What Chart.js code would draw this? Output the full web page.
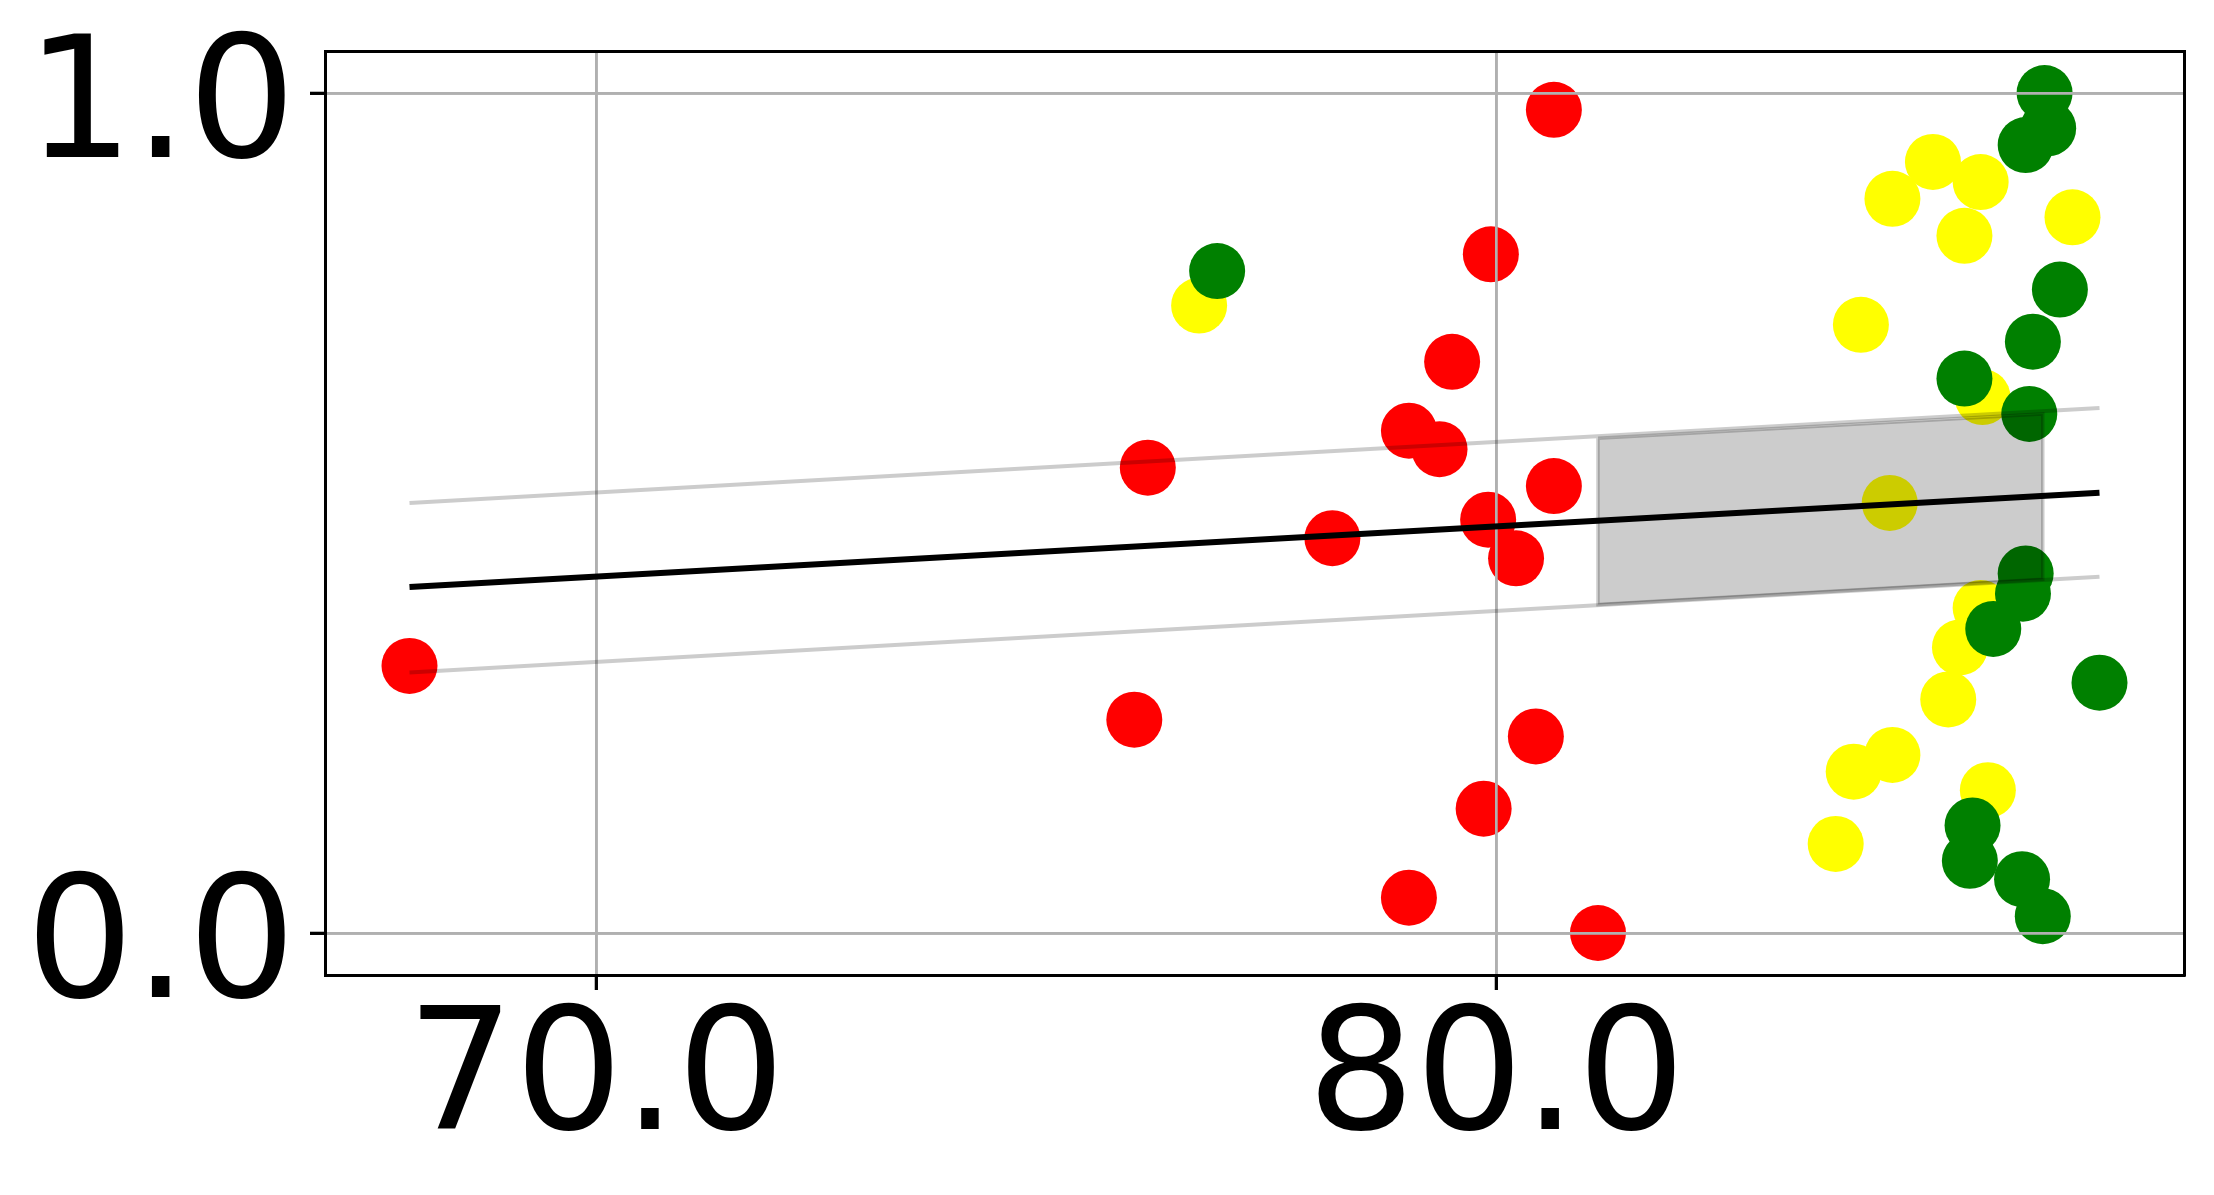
<!DOCTYPE html>
<html>
<head>
<meta charset="utf-8">
<script src="https://cdn.jsdelivr.net/npm/chart.js@4.4.1/dist/chart.umd.min.js"></script>
<style>
html, body { margin: 0; padding: 0; background: #ffffff; }
#wrap { width: 2214px; height: 1195px; }
</style>
</head>
<body>
<div id="wrap"><canvas id="c" width="2214" height="1195"></canvas></div>
<script>
// ---- data ----
const redX = [67.93, 76.13, 75.98, 78.18, 79.03, 79.37, 79.51, 79.94, 80.64, 79.91, 80.22, 80.64, 80.44, 79.86, 79.03, 81.13];
const redY = [0.318, 0.554, 0.254, 0.470, 0.598, 0.576, 0.680, 0.808, 0.980, 0.492, 0.446, 0.532, 0.234, 0.148, 0.042, 0.000];

const yellowX = [76.70, 84.40, 84.85, 85.38, 85.20, 86.40, 84.05, 85.40, 84.37, 85.38, 85.15, 85.02, 83.97, 84.40, 83.77, 85.46];
const yellowY = [0.747, 0.874, 0.918, 0.894, 0.830, 0.852, 0.724, 0.638, 0.512, 0.387, 0.340, 0.278, 0.192, 0.212, 0.106, 0.170];

const greenX = [76.90, 86.09, 86.13, 85.88, 86.26, 85.96, 85.20, 85.92, 85.88, 85.85, 85.52, 86.70, 85.29, 85.26, 85.84, 86.07];
const greenY = [0.788, 1.000, 0.958, 0.938, 0.766, 0.704, 0.660, 0.618, 0.428, 0.404, 0.362, 0.298, 0.128, 0.086, 0.064, 0.020];

const fitX = [67.93, 86.70];
const fitY = [0.412, 0.524];
const upperY = [0.512, 0.625];
const lowerY = [0.310, 0.424];

const zoneX = [81.13, 86.07, 86.07, 81.13, 81.13];
const zoneY = [0.589, 0.618, 0.421, 0.391, 0.589];

const xTicks = [70, 80];
const yTicks = [0, 1];

// ---- helpers ----
const pts = (xs, ys) => xs.map((x, i) => ({ x: x, y: ys[i] }));
const allX = redX.concat(yellowX, greenX);
const allY = redY.concat(yellowY, greenY);
const xMinD = Math.min(...allX), xMaxD = Math.max(...allX);
const yMinD = Math.min(...allY), yMaxD = Math.max(...allY);
const xPad = (xMaxD - xMinD) * 0.05, yPad = (yMaxD - yMinD) * 0.05;

const tickFont = { family: 'DejaVu Sans', size: 170, lineHeight: 1 };
const gridOpts = { color: '#b0b0b0', lineWidth: 2.7, tickColor: '#000000', tickLength: 15, tickWidth: 3 };
const borderOpts = { display: true, color: '#000000', width: 3, z: 1 };

const GREEN_INDEX = 2;
const gridOverPoints = {
  id: 'gridOverPoints',
  afterDatasetDraw(chart, args) {
    if (args.index === GREEN_INDEX) {
      chart.scales.x.drawGrid(chart.chartArea);
      chart.scales.y.drawGrid(chart.chartArea);
    }
  }
};

new Chart(document.getElementById('c'), {
  type: 'scatter',
  data: {
    datasets: [
      { type: 'scatter', data: pts(redX, redY), backgroundColor: '#ff0000', borderWidth: 0, pointRadius: 28, pointHoverRadius: 28, order: 6 },
      { type: 'scatter', data: pts(yellowX, yellowY), backgroundColor: '#ffff00', borderWidth: 0, pointRadius: 28, pointHoverRadius: 28, order: 5 },
      { type: 'scatter', data: pts(greenX, greenY), backgroundColor: '#008000', borderWidth: 0, pointRadius: 28, pointHoverRadius: 28, order: 4 },
      { type: 'line', data: pts(fitX, upperY), borderColor: 'rgba(0,0,0,0.2)', borderWidth: 4, pointRadius: 0, fill: false, tension: 0, order: 3 },
      { type: 'line', data: pts(fitX, lowerY), borderColor: 'rgba(0,0,0,0.2)', borderWidth: 4, pointRadius: 0, fill: false, tension: 0, order: 3 },
      { type: 'line', data: pts(zoneX, zoneY), borderColor: 'rgba(0,0,0,0.2)', borderWidth: 3.5, backgroundColor: 'rgba(0,0,0,0.2)', pointRadius: 0, fill: 'shape', tension: 0, order: 2 },
      { type: 'line', data: pts(fitX, fitY), borderColor: '#000000', borderWidth: 6, pointRadius: 0, fill: false, tension: 0, order: 1 }
    ]
  },
  options: {
    responsive: false,
    animation: false,
    devicePixelRatio: 1,
    layout: { padding: { top: 51, right: 30, left: 0, bottom: 0 } },
    plugins: { legend: { display: false }, tooltip: { enabled: false } },
    scales: {
      x: {
        type: 'linear', position: 'bottom',
        min: xMinD - xPad, max: xMaxD + xPad,
        afterBuildTicks: s => { s.ticks = xTicks.map(v => ({ value: v })); },
        afterFit: s => { s.height = 220; s.paddingLeft = 0; s.paddingRight = 0; },
        ticks: { font: tickFont, color: '#000000', padding: 10, maxRotation: 0, autoSkip: false, callback: v => Number(v).toFixed(1) },
        grid: gridOpts,
        border: borderOpts
      },
      y: {
        type: 'linear', position: 'left',
        min: yMinD - yPad, max: yMaxD + yPad,
        afterBuildTicks: s => { s.ticks = yTicks.map(v => ({ value: v })); },
        afterFit: s => { s.width = 325; s.paddingTop = 0; s.paddingBottom = 0; },
        ticks: { font: tickFont, color: '#000000', padding: 14, labelOffset: 20, autoSkip: false, callback: v => Number(v).toFixed(1) },
        grid: gridOpts,
        border: borderOpts
      },
      x2: {
        type: 'linear', position: 'top', axis: 'x',
        afterFit: s => { s.height = 0; s.paddingLeft = 0; s.paddingRight = 0; },
        ticks: { display: false },
        grid: { display: false, drawTicks: false },
        border: borderOpts
      },
      y2: {
        type: 'linear', position: 'right', axis: 'y',
        afterFit: s => { s.width = 0; s.paddingTop = 0; s.paddingBottom = 0; },
        ticks: { display: false },
        grid: { display: false, drawTicks: false },
        border: borderOpts
      }
    }
  },
  plugins: [gridOverPoints]
});
</script>
</body>
</html>
